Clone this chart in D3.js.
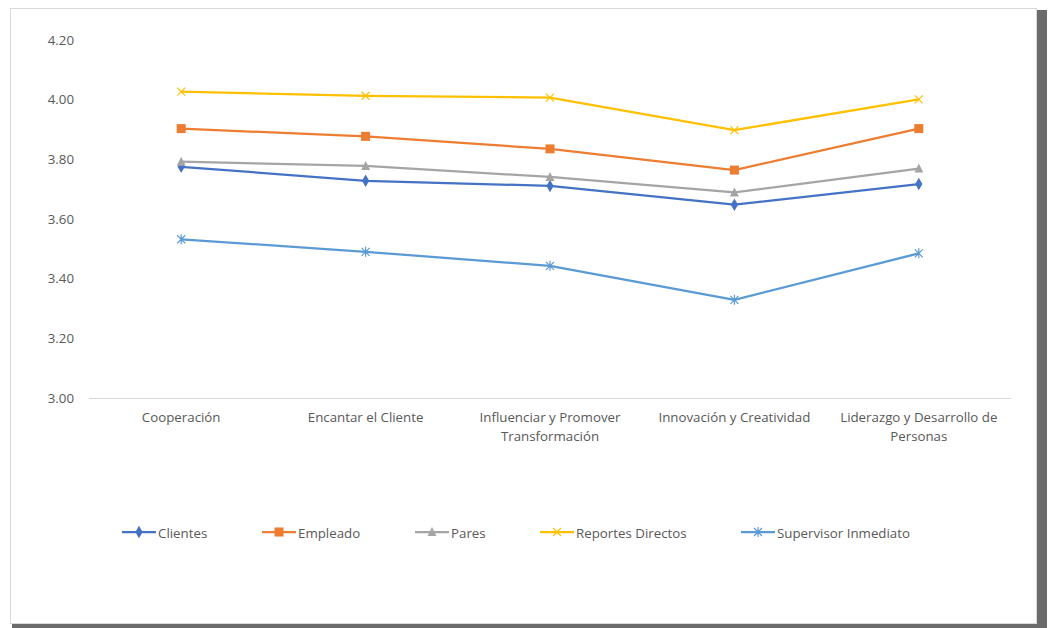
<!DOCTYPE html>
<html>
<head>
<meta charset="utf-8">
<script src="https://cdn.jsdelivr.net/npm/d3@7"></script>
<style>
  body { margin: 0; background: #fff; }
  svg text { font-family: "Open Sans", "Noto Sans", sans-serif; fill: #595959; }
</style>
</head>
<body>
<script>
var categories = ["Cooperación", "Encantar el Cliente", "Influenciar y Promover Transformación", "Innovación y Creatividad", "Liderazgo y Desarrollo de Personas"];
var categoryLines = [["Cooperación"], ["Encantar el Cliente"], ["Influenciar y Promover", "Transformación"], ["Innovación y Creatividad"], ["Liderazgo y Desarrollo de", "Personas"]];
var clientes = [3.775, 3.728, 3.711, 3.648, 3.717];
var empleado = [3.903, 3.877, 3.835, 3.764, 3.903];
var pares = [3.792, 3.778, 3.741, 3.689, 3.769];
var reportesDirectos = [4.027, 4.013, 4.007, 3.898, 4.001];
var supervisorInmediato = [3.532, 3.490, 3.443, 3.329, 3.485];
var yTicks = [3.00, 3.20, 3.40, 3.60, 3.80, 4.00, 4.20];

var series = [
	{ name: "Clientes", values: clientes, color: "#4472C4", marker: "diamond" },
	{ name: "Empleado", values: empleado, color: "#ED7D31", marker: "square" },
	{ name: "Pares", values: pares, color: "#A5A5A5", marker: "triangle" },
	{ name: "Reportes Directos", values: reportesDirectos, color: "#FFC000", marker: "x" },
	{ name: "Supervisor Inmediato", values: supervisorInmediato, color: "#5B9BD5", marker: "star" }
];

var svg = d3.select("body").append("svg")
	.attr("width", 1050)
	.attr("height", 628);

// shadow + frame
svg.append("rect").attr("x", 1037).attr("y", 10).attr("width", 10).attr("height", 618).attr("fill", "#6b6b6b");
svg.append("rect").attr("x", 12).attr("y", 624).attr("width", 1035).attr("height", 4).attr("fill", "#6b6b6b");
svg.append("rect").attr("x", 10.5).attr("y", 8.5).attr("width", 1026).attr("height", 615)
	.attr("fill", "#fff").attr("stroke", "#d9d9d9");

var x = d3.scaleBand().domain(categories).range([89, 1011]);
var y = d3.scaleLinear().domain([3, 4.2]).range([398, 40]);

// y axis labels
var yAxis = svg.append("g")
	.attr("transform", "translate(74,0)")
	.call(d3.axisLeft(y).tickValues(yTicks).tickFormat(d3.format(".2f")).tickSize(0).tickPadding(0));
yAxis.select(".domain").remove();
yAxis.selectAll("text").style("font-size", "13.3px").attr("fill", "#595959").attr("dy", "0.32em");

// baseline
svg.append("line")
	.attr("x1", 89).attr("x2", 1011)
	.attr("y1", y(3) + 0.5).attr("y2", y(3) + 0.5)
	.attr("stroke", "#d9d9d9").attr("stroke-width", 1);

// x labels
categories.forEach(function(c, i) {
	var t = svg.append("text")
		.attr("text-anchor", "middle")
		.attr("x", x(c) + x.bandwidth() / 2)
		.attr("y", 422)
		.style("font-size", "13.3px");
	categoryLines[i].forEach(function(l, j) {
		t.append("tspan").attr("x", x(c) + x.bandwidth() / 2).attr("dy", j === 0 ? 0 : 19).text(l);
	});
});

function drawMarker(g, type, color, cx, cy) {
	if (type === "diamond") {
		g.append("path").attr("d", d3.symbol(d3.symbolDiamond, 45)())
			.attr("transform", "translate(" + cx + "," + cy + ")").attr("fill", color);
	} else if (type === "square") {
		g.append("rect").attr("x", cx - 4.5).attr("y", cy - 4.5).attr("width", 9).attr("height", 9).attr("fill", color);
	} else if (type === "triangle") {
		g.append("path").attr("d", "M" + cx + "," + (cy - 5) + "L" + (cx + 4.5) + "," + (cy + 4) + "L" + (cx - 4.5) + "," + (cy + 4) + "Z")
			.attr("fill", color);
	} else if (type === "x") {
		g.append("path").attr("d", "M" + (cx - 4) + "," + (cy - 4) + "L" + (cx + 4) + "," + (cy + 4) + "M" + (cx - 4) + "," + (cy + 4) + "L" + (cx + 4) + "," + (cy - 4))
			.attr("stroke", color).attr("stroke-width", 1.2).attr("fill", "none");
	} else if (type === "star") {
		g.append("path").attr("d", "M" + (cx - 4) + "," + (cy - 4) + "L" + (cx + 4) + "," + (cy + 4) + "M" + (cx - 4) + "," + (cy + 4) + "L" + (cx + 4) + "," + (cy - 4) + "M" + cx + "," + (cy - 5) + "L" + cx + "," + (cy + 5))
			.attr("stroke", color).attr("stroke-width", 1.2).attr("fill", "none");
	}
}

var line = d3.line()
	.x(function(d, i) { return x(categories[i]) + x.bandwidth() / 2; })
	.y(function(d) { return y(d); });

series.forEach(function(s) {
	var g = svg.append("g");
	g.append("path")
		.attr("d", line(s.values))
		.attr("fill", "none")
		.attr("stroke", s.color)
		.attr("stroke-width", 2.25)
		.attr("stroke-linejoin", "round");
	s.values.forEach(function(v, i) {
		drawMarker(g, s.marker, s.color, x(categories[i]) + x.bandwidth() / 2, y(v));
	});
});

// legend
var legendX = [122, 262, 415, 540, 741];
series.forEach(function(s, i) {
	var g = svg.append("g");
	var lx = legendX[i], ly = 532;
	g.append("line").attr("x1", lx).attr("x2", lx + 34).attr("y1", ly).attr("y2", ly)
		.attr("stroke", s.color).attr("stroke-width", 2.25);
	drawMarker(g, s.marker, s.color, lx + 17, ly);
	g.append("text").attr("x", lx + 36).attr("y", ly + 1).attr("dy", "0.35em")
		.style("font-size", "13.3px").text(s.name);
});
</script>
</body>
</html>
